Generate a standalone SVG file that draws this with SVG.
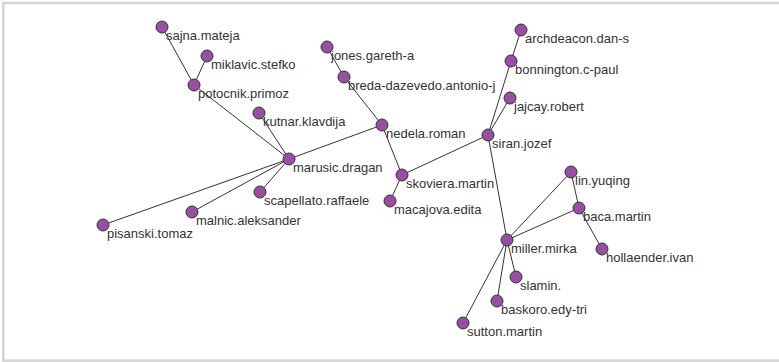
<svg xmlns="http://www.w3.org/2000/svg" width="779" height="362" viewBox="0 0 779 362">
  <style>
    .frame { fill: #ffffff; stroke: #d4d4d4; stroke-width: 2.6; }
    .edge { stroke: #333333; stroke-width: 1; fill: none; }
    .node circle { fill: #984ea3; stroke: #333333; stroke-width: 1; }
    .node text { font-family: "Liberation Sans", Arial, Helvetica, sans-serif; font-size: 13px; fill: #333333; }
  </style>

  <rect class="frame" x="3.3" y="3" width="800" height="357.6"/>

  <!-- links -->
  <g id="edges">
    <line class="edge" x1="162" y1="27" x2="194" y2="85"/>
    <line class="edge" x1="207" y1="56" x2="194" y2="85"/>
    <line class="edge" x1="194" y1="85" x2="289" y2="159"/>
    <line class="edge" x1="259" y1="113" x2="289" y2="159"/>
    <line class="edge" x1="289" y1="159" x2="382" y2="125"/>
    <line class="edge" x1="289" y1="159" x2="260" y2="192"/>
    <line class="edge" x1="289" y1="159" x2="192" y2="212"/>
    <line class="edge" x1="289" y1="159" x2="103" y2="225"/>
    <line class="edge" x1="327" y1="47" x2="344" y2="77"/>
    <line class="edge" x1="344" y1="77" x2="382" y2="125"/>
    <line class="edge" x1="382" y1="125" x2="402" y2="175"/>
    <line class="edge" x1="402" y1="175" x2="390" y2="201"/>
    <line class="edge" x1="402" y1="175" x2="488" y2="135"/>
    <line class="edge" x1="488" y1="135" x2="511" y2="61"/>
    <line class="edge" x1="511" y1="61" x2="521" y2="30"/>
    <line class="edge" x1="488" y1="135" x2="510" y2="98"/>
    <line class="edge" x1="488" y1="135" x2="507" y2="240"/>
    <line class="edge" x1="507" y1="240" x2="571" y2="172"/>
    <line class="edge" x1="507" y1="240" x2="579" y2="208"/>
    <line class="edge" x1="571" y1="172" x2="579" y2="208"/>
    <line class="edge" x1="579" y1="208" x2="602" y2="249"/>
    <line class="edge" x1="507" y1="240" x2="516" y2="277"/>
    <line class="edge" x1="507" y1="240" x2="497" y2="301"/>
    <line class="edge" x1="507" y1="240" x2="463" y2="323"/>
  </g>

  <!-- authors -->
  <g id="sajna.mateja" class="node"><circle cx="162" cy="27" r="6"/><text x="166" y="39.5">sajna.mateja</text></g>
  <g id="miklavic.stefko" class="node"><circle cx="207" cy="56" r="6"/><text x="211" y="68.5">miklavic.stefko</text></g>
  <g id="potocnik.primoz" class="node"><circle cx="194" cy="85" r="6"/><text x="198" y="97.5">potocnik.primoz</text></g>
  <g id="kutnar.klavdija" class="node"><circle cx="259" cy="113" r="6"/><text x="263" y="125.5">kutnar.klavdija</text></g>
  <g id="marusic.dragan" class="node"><circle cx="289" cy="159" r="6"/><text x="293" y="171.5">marusic.dragan</text></g>
  <g id="scapellato.raffaele" class="node"><circle cx="260" cy="192" r="6"/><text x="264" y="204.5">scapellato.raffaele</text></g>
  <g id="malnic.aleksander" class="node"><circle cx="192" cy="212" r="6"/><text x="196" y="224.5">malnic.aleksander</text></g>
  <g id="pisanski.tomaz" class="node"><circle cx="103" cy="225" r="6"/><text x="107" y="237.5">pisanski.tomaz</text></g>
  <g id="jones.gareth-a" class="node"><circle cx="327" cy="47" r="6"/><text x="331" y="59.5">jones.gareth-a</text></g>
  <g id="breda-dazevedo.antonio-j" class="node"><circle cx="344" cy="77" r="6"/><text x="348" y="89.5">breda-dazevedo.antonio-j</text></g>
  <g id="nedela.roman" class="node"><circle cx="382" cy="125" r="6"/><text x="386" y="137.5">nedela.roman</text></g>
  <g id="skoviera.martin" class="node"><circle cx="402" cy="175" r="6"/><text x="406" y="187.5">skoviera.martin</text></g>
  <g id="macajova.edita" class="node"><circle cx="390" cy="201" r="6"/><text x="394" y="213.5">macajova.edita</text></g>
  <g id="siran.jozef" class="node"><circle cx="488" cy="135" r="6"/><text x="492" y="147.5">siran.jozef</text></g>
  <g id="archdeacon.dan-s" class="node"><circle cx="521" cy="30" r="6"/><text x="525" y="42.5">archdeacon.dan-s</text></g>
  <g id="bonnington.c-paul" class="node"><circle cx="511" cy="61" r="6"/><text x="515" y="73.5">bonnington.c-paul</text></g>
  <g id="jajcay.robert" class="node"><circle cx="510" cy="98" r="6"/><text x="514" y="110.5">jajcay.robert</text></g>
  <g id="lin.yuqing" class="node"><circle cx="571" cy="172" r="6"/><text x="575" y="184.5">lin.yuqing</text></g>
  <g id="baca.martin" class="node"><circle cx="579" cy="208" r="6"/><text x="583" y="220.5">baca.martin</text></g>
  <g id="hollaender.ivan" class="node"><circle cx="602" cy="249" r="6"/><text x="606" y="261.5">hollaender.ivan</text></g>
  <g id="miller.mirka" class="node"><circle cx="507" cy="240" r="6"/><text x="511" y="252.5">miller.mirka</text></g>
  <g id="slamin." class="node"><circle cx="516" cy="277" r="6"/><text x="520" y="289.5">slamin.</text></g>
  <g id="baskoro.edy-tri" class="node"><circle cx="497" cy="301" r="6"/><text x="501" y="313.5">baskoro.edy-tri</text></g>
  <g id="sutton.martin" class="node"><circle cx="463" cy="323" r="6"/><text x="467" y="335.5">sutton.martin</text></g>
</svg>
